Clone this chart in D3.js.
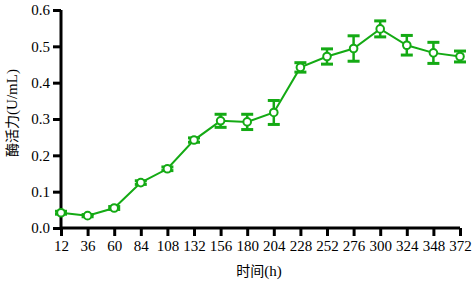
<!DOCTYPE html>
<html>
<head>
<meta charset="utf-8">
<script src="https://cdn.jsdelivr.net/npm/d3@7"></script>
<style>
  body { margin: 0; background: #fff; }
  svg text { font-family: "Liberation Serif", "Times New Roman", serif; }
</style>
</head>
<body>
<div id="chart"></div>
<script>
// data
const hours = [12, 36, 60, 84, 108, 132, 156, 180, 204, 228, 252, 276, 300, 324, 348, 372];
const activity = [0.042, 0.034, 0.055, 0.125, 0.163, 0.242, 0.295, 0.292, 0.318, 0.442, 0.472, 0.494, 0.548, 0.503, 0.482, 0.472];
const errors = [0.004, 0.003, 0.004, 0.005, 0.005, 0.006, 0.018, 0.021, 0.033, 0.013, 0.021, 0.035, 0.022, 0.027, 0.029, 0.015];
const yTicks = [0.0, 0.1, 0.2, 0.3, 0.4, 0.5, 0.6];

const W = 472, H = 283;
const GREEN = "#14aa14";

const svg = d3.select("#chart").append("svg")
  .attr("width", W).attr("height", H);

const x = d3.scaleLinear().domain([12, 372]).range([61, 460]);
const y = d3.scaleLinear().domain([0, 0.6]).range([228, 10]);

// axes
const xAxis = svg.append("g")
  .attr("transform", `translate(0,${y(0)})`)
  .call(d3.axisBottom(x).tickValues(hours).tickSize(8).tickPadding(4).tickFormat(d3.format("d")));
const yAxis = svg.append("g")
  .attr("transform", `translate(${x(12)},0)`)
  .call(d3.axisLeft(y).tickValues(yTicks).tickSize(8).tickPadding(3).tickFormat(d3.format(".1f")));

[xAxis, yAxis].forEach(g => {
  g.select(".domain").attr("stroke", "#000").attr("stroke-width", 3);
  g.selectAll(".tick line").attr("stroke", "#000").attr("stroke-width", 3);
  g.selectAll(".tick text").attr("fill", "#000").style("font-size", "15px");
});
xAxis.select(".domain").attr("d", `M${x(12)},0H${x(372)}`);
yAxis.select(".domain").attr("d", `M0,${y(0.6)}V${y(0)}`);

// axis titles
svg.append("text")
  .attr("x", 259).attr("y", 276)
  .attr("text-anchor", "middle")
  .style("font-size", "15px")
  .html('<tspan style="font-family:\'Noto Sans CJK SC\';font-size:14px">时间</tspan>(h)');

svg.append("text")
  .attr("transform", "translate(17,113) rotate(-90)")
  .attr("text-anchor", "middle")
  .style("font-size", "15px")
  .html('<tspan style="font-family:\'Noto Sans CJK SC\';font-size:14px">酶活力</tspan>(U/mL)');

const pts = hours.map((h, i) => ({ h, v: activity[i], e: errors[i] }));

// line
svg.append("path")
  .datum(pts)
  .attr("fill", "none")
  .attr("stroke", GREEN)
  .attr("stroke-width", 2)
  .attr("d", d3.line().x(d => x(d.h)).y(d => y(d.v)));

// error bars
const eb = svg.append("g").attr("stroke", GREEN).attr("stroke-width", 2.5);
pts.forEach(d => {
  eb.append("line").attr("x1", x(d.h)).attr("x2", x(d.h))
    .attr("y1", y(d.v - d.e)).attr("y2", y(d.v + d.e));
  [d.v - d.e, d.v + d.e].forEach(v => {
    eb.append("line").attr("x1", x(d.h) - 6).attr("x2", x(d.h) + 6)
      .attr("y1", y(v)).attr("y2", y(v)).attr("stroke-width", 3);
  });
});

// markers
svg.append("g").selectAll("circle")
  .data(pts).join("circle")
  .attr("cx", d => x(d.h)).attr("cy", d => y(d.v))
  .attr("r", 3.8)
  .attr("fill", "#fff")
  .attr("stroke", GREEN)
  .attr("stroke-width", 2);
</script>
</body>
</html>
